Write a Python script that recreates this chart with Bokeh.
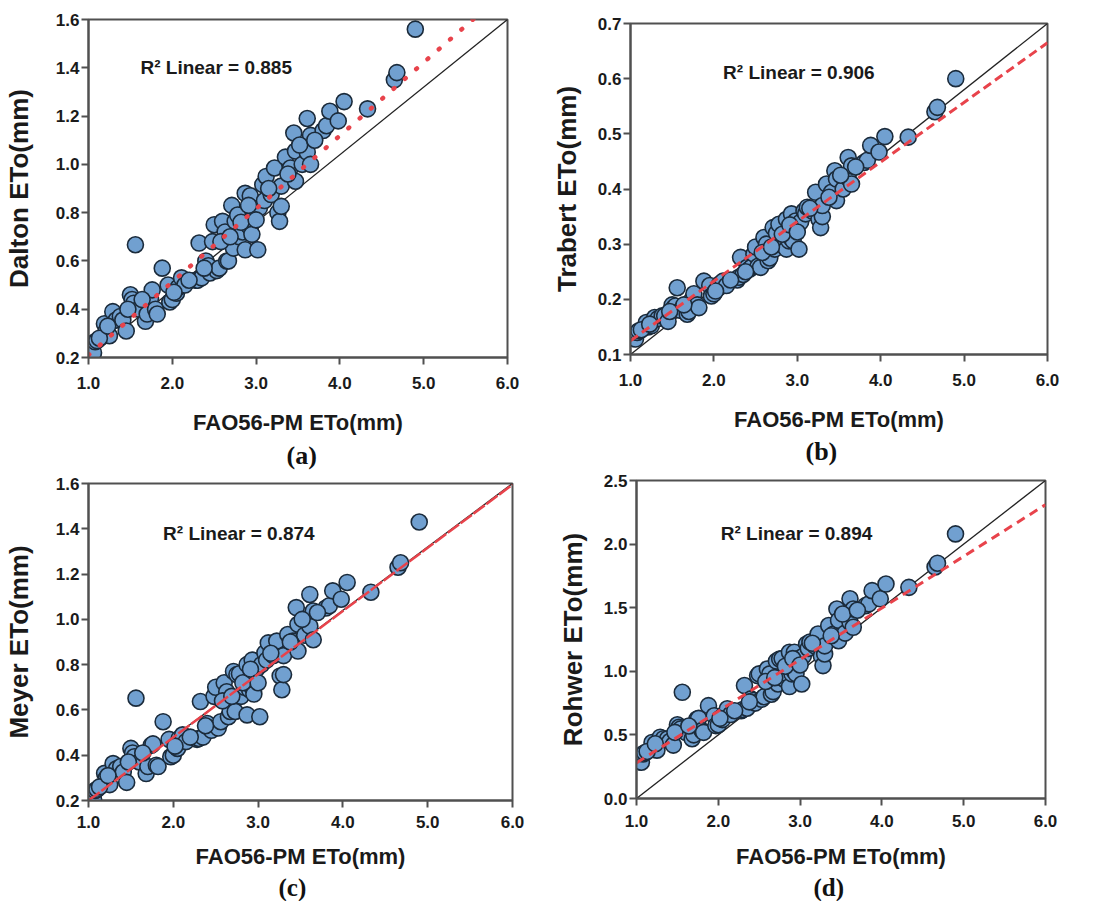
from bokeh.plotting import figure
from bokeh.layouts import column, row
from bokeh.models import Label, Title, FixedTicker, Range1d, PrintfTickFormatter, ColumnDataSource
from bokeh.embed import file_html
from bokeh.resources import INLINE

# ---------------- data ----------------
fao56 = [1.04, 1.06, 1.08, 1.10, 1.19, 1.21, 1.25, 1.29, 1.33, 1.38,
         1.41, 1.45, 1.50, 1.52, 1.54, 1.56, 1.60, 1.68, 1.70, 1.74,
         1.76, 1.80, 1.82, 1.88, 1.95, 1.97, 2.00, 2.05, 2.07, 2.11,
         2.15, 2.28, 2.30, 2.32, 2.35, 2.40, 2.43, 2.45, 2.48, 2.50,
         2.53, 2.56, 2.60, 2.63, 2.65, 2.67, 2.71, 2.73, 2.75, 2.78,
         2.80, 2.84, 2.87, 2.87, 2.90, 2.93, 2.93, 2.95, 2.98, 3.02,
         3.04, 3.08, 3.10, 3.12, 3.18, 3.22, 3.26, 3.28, 3.30, 3.30,
         3.35, 3.41, 3.45, 3.47, 3.47, 3.55, 3.61, 3.61, 3.65, 3.65,
         3.80, 3.84, 3.88, 3.98, 4.05, 4.33, 4.65, 4.68, 4.90,
         1.13, 1.23, 1.47, 1.64, 2.02, 2.20, 2.38, 2.58, 2.69, 2.82,
         2.91, 3.00, 3.15, 3.38, 3.52, 3.70]

dalton = [0.23, 0.22, 0.265, 0.27, 0.34, 0.31, 0.29, 0.39, 0.355, 0.37,
          0.355, 0.31, 0.46, 0.44, 0.425, 0.667, 0.40, 0.35, 0.38, 0.445,
          0.48, 0.40, 0.38, 0.57, 0.50, 0.43, 0.44, 0.466, 0.49, 0.53,
          0.50, 0.52, 0.52, 0.674, 0.53, 0.60, 0.58, 0.55, 0.68, 0.75,
          0.56, 0.57, 0.764, 0.72, 0.60, 0.60, 0.83, 0.653, 0.764, 0.79,
          0.70, 0.72, 0.88, 0.646, 0.75, 0.87, 0.736, 0.71, 0.80, 0.646,
          0.82, 0.916, 0.85, 0.95, 0.875, 0.985, 0.80, 0.764, 0.826, 0.91,
          1.03, 0.985, 1.13, 1.055, 0.93, 1.00, 1.19, 1.05, 1.12, 1.00,
          1.14, 1.16, 1.22, 1.18, 1.26, 1.23, 1.35, 1.38, 1.56,
          0.28, 0.33, 0.40, 0.44, 0.47, 0.52, 0.57, 0.68, 0.70, 0.76,
          0.83, 0.77, 0.90, 0.96, 1.08, 1.10]

trabert = [0.130, 0.128, 0.140, 0.143, 0.158, 0.150, 0.152, 0.167, 0.165, 0.170,
           0.170, 0.160, 0.190, 0.185, 0.188, 0.221, 0.180, 0.173, 0.178, 0.200,
           0.210, 0.190, 0.185, 0.233, 0.225, 0.206, 0.210, 0.220, 0.228, 0.233,
           0.225, 0.235, 0.240, 0.276, 0.245, 0.258, 0.255, 0.258, 0.282, 0.295,
           0.260, 0.258, 0.312, 0.300, 0.270, 0.275, 0.330, 0.291, 0.320, 0.336,
           0.300, 0.310, 0.345, 0.291, 0.306, 0.355, 0.310, 0.306, 0.342, 0.291,
           0.340, 0.360, 0.355, 0.367, 0.360, 0.394, 0.345, 0.330, 0.350, 0.370,
           0.409, 0.394, 0.433, 0.418, 0.379, 0.400, 0.457, 0.420, 0.442, 0.409,
           0.448, 0.452, 0.479, 0.467, 0.495, 0.494, 0.540, 0.548, 0.600,
           0.145, 0.155, 0.178, 0.190, 0.215, 0.235, 0.250, 0.285, 0.295, 0.318,
           0.335, 0.322, 0.365, 0.385, 0.425, 0.440]

meyer = [0.215, 0.205, 0.244, 0.25, 0.32, 0.30, 0.27, 0.363, 0.34, 0.35,
         0.326, 0.28, 0.43, 0.41, 0.393, 0.652, 0.37, 0.319, 0.35, 0.444,
         0.45, 0.356, 0.35, 0.548, 0.47, 0.393, 0.40, 0.43, 0.474, 0.49,
         0.46, 0.47, 0.474, 0.637, 0.48, 0.54, 0.52, 0.51, 0.66, 0.70,
         0.52, 0.548, 0.72, 0.68, 0.57, 0.593, 0.77, 0.593, 0.756, 0.76,
         0.66, 0.70, 0.80, 0.578, 0.689, 0.82, 0.70, 0.67, 0.78, 0.57,
         0.80, 0.852, 0.82, 0.896, 0.84, 0.904, 0.75, 0.689, 0.756, 0.84,
         0.933, 0.904, 1.052, 0.978, 0.86, 0.93, 1.11, 0.97, 1.037, 0.91,
         1.05, 1.06, 1.126, 1.089, 1.163, 1.12, 1.23, 1.25, 1.43,
         0.26, 0.31, 0.37, 0.41, 0.44, 0.48, 0.53, 0.64, 0.66, 0.72,
         0.78, 0.72, 0.85, 0.90, 1.00, 1.03]

rohwer = [0.29, 0.285, 0.35, 0.36, 0.44, 0.39, 0.38, 0.482, 0.47, 0.469,
          0.45, 0.42, 0.58, 0.56, 0.547, 0.835, 0.52, 0.47, 0.50, 0.625,
          0.63, 0.534, 0.52, 0.73, 0.65, 0.573, 0.58, 0.62, 0.66, 0.705,
          0.66, 0.69, 0.70, 0.888, 0.71, 0.783, 0.77, 0.75, 0.966, 0.98,
          0.78, 0.80, 1.018, 0.98, 0.82, 0.84, 1.08, 0.90, 1.097, 1.10,
          0.94, 0.98, 1.15, 0.88, 0.98, 1.15, 1.00, 0.98, 1.10, 0.90,
          1.12, 1.215, 1.18, 1.23, 1.20, 1.293, 1.12, 1.045, 1.136, 1.20,
          1.36, 1.293, 1.49, 1.40, 1.24, 1.30, 1.57, 1.385, 1.49, 1.346,
          1.516, 1.53, 1.634, 1.57, 1.686, 1.66, 1.82, 1.85, 2.08,
          0.37, 0.43, 0.52, 0.57, 0.63, 0.69, 0.76, 0.92, 0.95, 1.04,
          1.10, 1.05, 1.22, 1.28, 1.45, 1.48]

x_ticks = [1.0, 2.0, 3.0, 4.0, 5.0, 6.0]
fit_x = [1.0, 6.0]
fit_dalton = [0.21, 1.725]
fit_trabert = [0.125, 0.665]
fit_meyer = [0.20, 1.595]
fit_rohwer = [0.28, 2.31]

r2_texts = ["R\u00b2 Linear = 0.885", "R\u00b2 Linear = 0.906",
            "R\u00b2 Linear = 0.874", "R\u00b2 Linear = 0.894"]
y_labels = ["Dalton ETo(mm)", "Trabert ETo(mm)", "Meyer ETo(mm)", "Rohwer ETo(mm)"]
x_label = "FAO56-PM ETo(mm)"
captions = ["(a)", "(b)", "(c)", "(d)"]

y_limits = [(0.2, 1.6), (0.1, 0.7), (0.2, 1.6), (0.0, 2.5)]
y_ticks = [[0.2, 0.4, 0.6, 0.8, 1.0, 1.2, 1.4, 1.6],
           [0.1, 0.2, 0.3, 0.4, 0.5, 0.6, 0.7],
           [0.2, 0.4, 0.6, 0.8, 1.0, 1.2, 1.4, 1.6],
           [0.0, 0.5, 1.0, 1.5, 2.0, 2.5]]

# ---------------- styling / layout ----------------
FONT = "Liberation Sans"
SERIF = "Liberation Serif"
TXT = "#1a1a1a"
AX = "#505050"
FILL = "#71a0d0"
EDGE = "#1b2b3b"
RED = "#e8434b"

panels = [
    dict(y=dalton, fit=fit_dalton, dash="1 14", lw=4.5, cap="round",
         w=548, h=473, bl=85, br=41, bt=19, bb=116, ylab_sd=19, tick_sd=12, xlab_sd=18,
         r2=(1.62, 1.40), cap_sd=2, cap_off=198, cap_fs="26px"),
    dict(y=trabert, fit=fit_trabert, dash="9 5", lw=3, cap="butt",
         w=548, h=473, bl=81, br=49, bt=23, bb=119, ylab_sd=13, tick_sd=12, xlab_sd=18,
         r2=(2.11, 0.611), cap_sd=1, cap_off=175, cap_fs="26px"),
    dict(y=meyer, fit=fit_meyer, dash="14 2", lw=2.5, cap="butt",
         w=548, h=428, bl=87, br=36, bt=10, bb=101, ylab_sd=19, tick_sd=8, xlab_sd=13,
         r2=(1.88, 1.378), cap_sd=0, cap_off=190, cap_fs="25px"),
    dict(y=rohwer, fit=fit_rohwer, dash="9 6", lw=3, cap="butt",
         w=548, h=428, bl=88, br=51, bt=7, bb=100, ylab_sd=13, tick_sd=9, xlab_sd=14,
         r2=(2.03, 2.087), cap_sd=1, cap_off=177, cap_fs="25px"),
]

figs = []
for i, cfg in enumerate(panels):
    y0, y1 = y_limits[i]
    p = figure(width=cfg["w"], height=cfg["h"], output_backend="svg", toolbar_location=None,
               x_range=Range1d(1.0, 6.0), y_range=Range1d(y0, y1),
               min_border_left=cfg["bl"], min_border_right=cfg["br"],
               min_border_top=cfg["bt"], min_border_bottom=cfg["bb"])
    p.grid.visible = False
    p.outline_line_color = AX
    p.outline_line_width = 2
    p.background_fill_color = "white"
    p.border_fill_color = "white"

    for ax in (p.xaxis[0], p.yaxis[0]):
        ax.axis_line_color = AX
        ax.axis_line_width = 2
        ax.major_tick_line_color = AX
        ax.major_tick_line_width = 2
        ax.major_tick_out = 7
        ax.major_tick_in = 0
        ax.minor_tick_line_color = None
        ax.major_label_text_font = FONT
        ax.major_label_text_font_style = "bold"
        ax.major_label_text_font_size = "17px"
        ax.major_label_text_color = TXT
        ax.axis_label_text_font = FONT
        ax.axis_label_text_font_style = "bold"
        ax.axis_label_text_color = TXT
        ax.formatter = PrintfTickFormatter(format="%.1f")

    p.xaxis.ticker = FixedTicker(ticks=x_ticks)
    p.yaxis.ticker = FixedTicker(ticks=y_ticks[i])
    p.xaxis.axis_label = x_label
    p.xaxis.axis_label_text_font_size = "22px"
    p.xaxis.major_label_standoff = cfg["tick_sd"]
    p.xaxis.axis_label_standoff = cfg["xlab_sd"]
    p.yaxis.axis_label = y_labels[i]
    p.yaxis.axis_label_text_font_size = "26px"
    p.yaxis.major_label_standoff = 2
    p.yaxis.axis_label_standoff = cfg["ylab_sd"]

    # reference diagonal (corner to corner)
    p.line(fit_x, [y0, y1], line_color="#222222", line_width=1.3)

    src = ColumnDataSource(dict(x=fao56, y=cfg["y"]))
    p.scatter("x", "y", source=src, size=16, fill_color=FILL, line_color=EDGE,
              line_width=1.6, fill_alpha=1.0)

    p.line(fit_x, cfg["fit"], line_color=RED, line_width=cfg["lw"],
           line_dash=cfg["dash"], line_cap=cfg["cap"])

    p.add_layout(Label(x=cfg["r2"][0], y=cfg["r2"][1], text=r2_texts[i],
                       text_font=FONT, text_font_style="bold", text_font_size="19px",
                       text_color=TXT, text_baseline="middle", text_align="left"))

    # panel caption below the axis title
    p.add_layout(Title(text=captions[i], align="left", offset=cfg["cap_off"],
                       standoff=cfg["cap_sd"], text_font=SERIF, text_font_style="bold",
                       text_font_size=cfg["cap_fs"], text_color="#111111"), "below")
    figs.append(p)

layout = column(row(column(figs[0]), column(figs[1])),
                row(column(figs[2]), column(figs[3])))
open("out.html", "w").write(file_html(layout, INLINE))
